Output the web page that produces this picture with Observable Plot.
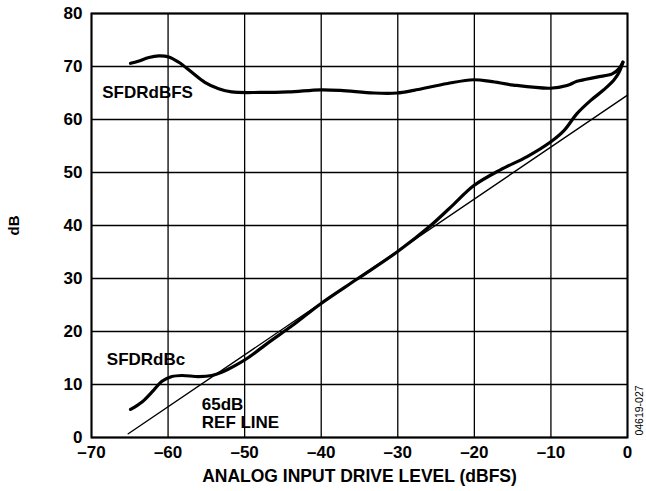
<!DOCTYPE html>
<html>
<head>
<meta charset="utf-8">
<script src="https://cdn.jsdelivr.net/npm/d3@7"></script>
<script src="https://cdn.jsdelivr.net/npm/@observablehq/plot@0.6"></script>
<style>
  html, body { margin: 0; padding: 0; background: #fff; }
  #chart svg { display: block; }
</style>
</head>
<body>
<div id="chart"></div>
<script>
// X ticks and Y ticks
const xTicks = [-70, -60, -50, -40, -30, -20, -10, 0];
const yTicks = [0, 10, 20, 30, 40, 50, 60, 70, 80];

// SFDRdBFS curve (input level dBFS, dB)
const dbfsX = [-64.9, -63.9, -62.5, -61.2, -59.9, -58.6, -56.9, -55.2, -53.4, -51.7, -48, -44.3, -40.1, -37.5, -33.1, -30.1, -27.9, -23.5, -20.1, -17.9, -14.9, -10.1, -7.9, -6.6, -4.0, -2.0, -1.1, -0.6];
const dbfsY = [70.6, 71.0, 71.7, 72.0, 71.8, 70.8, 68.9, 67.0, 65.8, 65.2, 65.1, 65.2, 65.6, 65.5, 65.0, 65.0, 65.5, 66.8, 67.5, 67.2, 66.5, 65.9, 66.4, 67.2, 68.0, 68.6, 69.6, 70.8];

// SFDRdBc curve
const dbcX = [-64.9, -63.4, -61.9, -60.8, -59.5, -58.2, -56.0, -54.3, -53.0, -51.2, -49.5, -46.9, -43.5, -40.1, -35.3, -30.1, -25.7, -22.7, -20.1, -16.6, -13.1, -10.1, -8.3, -6.6, -4.8, -3.1, -1.8, -1.1, -0.6];
const dbcY = [5.3, 6.7, 8.9, 10.6, 11.5, 11.7, 11.5, 11.7, 12.3, 13.6, 15.1, 17.9, 21.4, 25.2, 29.9, 35.0, 40.0, 44.0, 47.5, 50.5, 53.0, 55.7, 57.9, 61.1, 63.6, 65.6, 67.4, 68.9, 70.8];

// 65 dB reference line
const refX = [-65.2, 0];
const refY = [0.7, 64.6];

// Annotation labels
const labelText = ["SFDRdBFS", "SFDRdBc", "65dB", "REF LINE"];
const labelX = [-68.6, -68.0, -55.6, -55.6];
const labelY = [65.1, 14.8, 6.3, 2.8];

const dbfs = dbfsX.map((x, i) => ({x, y: dbfsY[i]}));
const dbc = dbcX.map((x, i) => ({x, y: dbcY[i]}));
const ref = refX.map((x, i) => ({x, y: refY[i]}));
const labels = labelText.map((t, i) => ({t, x: labelX[i], y: labelY[i]}));

const fmt = d => (d < 0 ? "\u2013" + Math.abs(d) : String(d));

const chart = Plot.plot({
  width: 646,
  height: 491,
  marginLeft: 91,
  marginRight: 19,
  marginTop: 13,
  marginBottom: 54,
  style: {fontFamily: "'Liberation Sans', Arial, sans-serif", fontWeight: "bold", fontSize: "17px", color: "#000", background: "#fff"},
  x: {domain: [-70, 0]},
  y: {domain: [0, 80]},
  marks: [
    Plot.ruleX(xTicks, {stroke: "#000", strokeWidth: 1.3}),
    Plot.ruleY(yTicks, {stroke: "#000", strokeWidth: 1.3}),
    Plot.frame({stroke: "#000", strokeWidth: 2}),
    Plot.axisX(xTicks, {tickSize: 0, tickPadding: 8, tickFormat: fmt, label: null, fontSize: 17, fontWeight: "bold"}),
    Plot.axisY(yTicks, {tickSize: 0, tickPadding: 9, label: null, fontSize: 17, fontWeight: "bold"}),
    Plot.line(ref, {x: "x", y: "y", stroke: "#000", strokeWidth: 1.4}),
    Plot.line(dbfs, {x: "x", y: "y", stroke: "#000", strokeWidth: 3.2, curve: "catmull-rom"}),
    Plot.line(dbc, {x: "x", y: "y", stroke: "#000", strokeWidth: 3.2, curve: "catmull-rom"}),
    Plot.text(labels, {x: "x", y: "y", text: "t", textAnchor: "start", fontSize: 17, fontWeight: "bold", fill: "#000"}),
    Plot.text(["ANALOG INPUT DRIVE LEVEL (dBFS)"], {frameAnchor: "bottom", dy: 39, lineAnchor: "middle", textAnchor: "middle", fontSize: 17.5, fontWeight: "bold", fill: "#000"}),
    Plot.text(["dB"], {frameAnchor: "left", dx: -77, rotate: -90, textAnchor: "middle", lineAnchor: "middle", fontSize: 15, fontWeight: "bold", fill: "#000"}),
    Plot.text(["04619-027"], {frameAnchor: "bottom-right", dx: 12, dy: -27, rotate: -90, textAnchor: "middle", lineAnchor: "middle", fontSize: 10.5, fontWeight: "normal", fill: "#000"})
  ]
});
document.getElementById("chart").appendChild(chart);
</script>
</body>
</html>
